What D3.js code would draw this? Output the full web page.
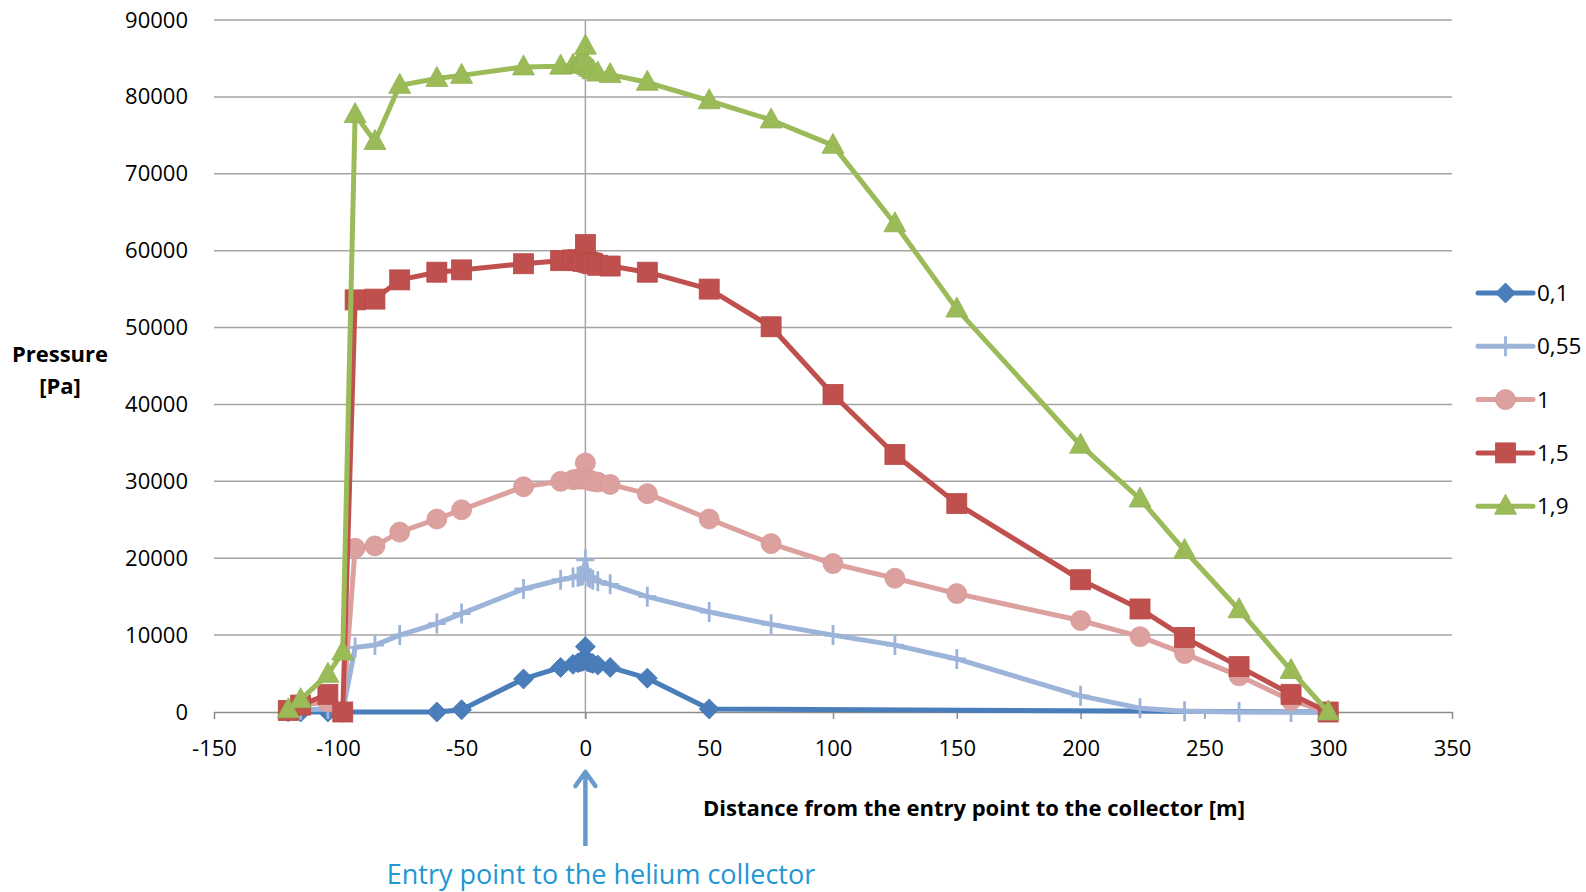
<!DOCTYPE html>
<html>
<head>
<meta charset="utf-8">
<script src="https://cdn.jsdelivr.net/npm/d3@7"></script>
<style>
  html, body { margin: 0; padding: 0; background: #ffffff; }
  svg { display: block; font-family: "Open Sans", "Noto Sans", "Liberation Sans", sans-serif; }
</style>
</head>
<body>
<svg id="chart" width="1586" height="892"></svg>
<script>
// Distance positions [m] shared by the 0,55 / 1 / 1,5 / 1,9 series
const xMain = [-120, -115, -104, -98, -93, -85, -75, -60, -50, -25, -10, -5, -3, -2, -1, 0, 1, 2, 3, 5, 10, 25, 50, 75, 100, 125, 150, 200, 224, 242, 264, 285, 300];
// Distance positions [m] for the 0,1 series
const xLow = [-120, -115, -104, -98, -60, -50, -25, -10, -5, -3, -2, -1, 0, 1, 2, 3, 5, 10, 25, 50, 300];

// Pressure [Pa]
const p01  = [0, 0, 0, 0, 0, 300, 4300, 5800, 6200, 6400, 6500, 6600, 8500, 6500, 6400, 6300, 6100, 5800, 4400, 400, 0];
const p055 = [0, 300, 400, 100, 8400, 8700, 10000, 11500, 12800, 16000, 17200, 17500, 17600, 17700, 17800, 19800, 17600, 17400, 17200, 17000, 16600, 15000, 13000, 11400, 10000, 8700, 6900, 2100, 500, 100, 0, 0, 0];
const p1   = [200, 900, 1300, 0, 21300, 21600, 23400, 25100, 26300, 29300, 30000, 30200, 30300, 30300, 30300, 32400, 30200, 30100, 30000, 29900, 29600, 28400, 25100, 21900, 19300, 17400, 15400, 11900, 9800, 7600, 4700, 1500, 0];
const p15  = [200, 900, 2300, 0, 53600, 53700, 56200, 57200, 57500, 58300, 58700, 58800, 58800, 58700, 58600, 60800, 58500, 58400, 58300, 58100, 58000, 57200, 55000, 50100, 41300, 33500, 27100, 17200, 13400, 9700, 5900, 2300, 0];
const p19  = [300, 1600, 4900, 7800, 77700, 74200, 81500, 82400, 82800, 83900, 84000, 84100, 84200, 84300, 84400, 86600, 83900, 83700, 83400, 83100, 82900, 81900, 79500, 77000, 73700, 63500, 52400, 34700, 27700, 21000, 13300, 5400, 0];

const seriesNames = ["0,1", "0,55", "1", "1,5", "1,9"];
const xTicks = [-150, -100, -50, 0, 50, 100, 150, 200, 250, 300, 350];
const yTicks = [0, 10000, 20000, 30000, 40000, 50000, 60000, 70000, 80000, 90000];

const series = [
  { name: seriesNames[0], xs: xLow,  ys: p01,  color: "#4a7ebb", marker: "diamond" },
  { name: seriesNames[1], xs: xMain, ys: p055, color: "#9db4da", marker: "cross" },
  { name: seriesNames[2], xs: xMain, ys: p1,   color: "#dca19f", marker: "circle" },
  { name: seriesNames[3], xs: xMain, ys: p15,  color: "#c0504d", marker: "square" },
  { name: seriesNames[4], xs: xMain, ys: p19,  color: "#9bbb59", marker: "triangle" }
];

const svg = d3.select("#chart");
const plot = { left: 214, right: 1452, top: 20, bottom: 712 };

const x = d3.scaleLinear().domain([-150, 350]).range([plot.left, plot.right]);
const y = d3.scaleLinear().domain([0, 90000]).range([plot.bottom, plot.top]);

// Plain hyphen for negative numbers
const fmt = d => String(d);

// Horizontal gridlines
svg.append("g")
  .selectAll("line")
  .data(yTicks.filter(d => d > 0))
  .join("line")
  .attr("x1", plot.left).attr("x2", plot.right)
  .attr("y1", d => y(d)).attr("y2", d => y(d))
  .attr("stroke", "#a5a5a5").attr("stroke-width", 1.5);

// Value axis crossing at distance 0
svg.append("line")
  .attr("x1", x(0)).attr("x2", x(0))
  .attr("y1", plot.top).attr("y2", plot.bottom + 7)
  .attr("stroke", "#a5a5a5").attr("stroke-width", 1.5);

// Category axis along pressure 0
const xAxis = d3.axisBottom(x).tickValues(xTicks).tickSize(7).tickSizeOuter(0).tickPadding(21).tickFormat(fmt);
const gx = svg.append("g").attr("transform", `translate(0,${plot.bottom})`).call(xAxis);
gx.select(".domain").attr("stroke", "#8c8c8c").attr("stroke-width", 1.5);
gx.selectAll(".tick line").attr("stroke", "#8c8c8c").attr("stroke-width", 1.5);
gx.selectAll(".tick text")
  .attr("font-size", 22).attr("fill", "#000")
  .attr("font-family", "'Open Sans', sans-serif")
  .attr("dy", "0.71em");

// Pressure labels at the left edge of the plot
const yAxis = d3.axisLeft(y).tickValues(yTicks).tickSize(0).tickPadding(26).tickFormat(fmt);
const gy = svg.append("g").attr("transform", `translate(${plot.left},0)`).call(yAxis);
gy.select(".domain").remove();
gy.selectAll(".tick text")
  .attr("font-size", 22).attr("fill", "#000")
  .attr("font-family", "'Open Sans', sans-serif");

// Marker shapes
function drawMarker(g, type, color, cx, cy) {
  if (type === "diamond") {
    g.append("path")
      .attr("d", `M${cx},${cy - 10}L${cx + 10},${cy}L${cx},${cy + 10}L${cx - 10},${cy}Z`)
      .attr("fill", color).attr("stroke", "#4275b0").attr("stroke-width", 0.8);
  } else if (type === "cross") {
    g.append("path")
      .attr("d", `M${cx - 9},${cy}H${cx + 9}M${cx},${cy - 10}V${cy + 10}`)
      .attr("stroke", color).attr("stroke-width", 2.8).attr("fill", "none");
  } else if (type === "circle") {
    g.append("circle").attr("cx", cx).attr("cy", cy).attr("r", 10)
      .attr("fill", color).attr("stroke", "#d69996").attr("stroke-width", 0.8);
  } else if (type === "square") {
    g.append("rect").attr("x", cx - 10).attr("y", cy - 10).attr("width", 20).attr("height", 20)
      .attr("fill", color).attr("stroke", "#b84a47").attr("stroke-width", 0.8);
  } else if (type === "triangle") {
    g.append("path")
      .attr("d", `M${cx},${cy - 12}L${cx + 11},${cy + 8}L${cx - 11},${cy + 8}Z`)
      .attr("fill", color).attr("stroke", "#91b250").attr("stroke-width", 0.8);
  }
}

const line = d3.line().x(d => x(d[0])).y(d => y(d[1]));

series.forEach(s => {
  const pts = s.xs.map((v, i) => [v, s.ys[i]]);
  const g = svg.append("g").attr("class", "series");
  g.append("path")
    .attr("d", line(pts))
    .attr("fill", "none")
    .attr("stroke", s.color)
    .attr("stroke-width", 5)
    .attr("stroke-linejoin", "round")
    .attr("stroke-linecap", "round");
  const mg = g.append("g");
  pts.forEach(p => drawMarker(mg, s.marker, s.color, x(p[0]), y(p[1])));
});

// Legend
const legend = svg.append("g");
series.forEach((s, i) => {
  const ly = 293 + i * 53.3;
  const g = legend.append("g");
  g.append("line")
    .attr("x1", 1478).attr("x2", 1533).attr("y1", ly).attr("y2", ly)
    .attr("stroke", s.color).attr("stroke-width", 5).attr("stroke-linecap", "round");
  drawMarker(g, s.marker, s.color, 1505.5, ly);
  g.append("text")
    .attr("x", 1537).attr("y", ly + 8)
    .attr("font-size", 22.5).attr("fill", "#000")
    .text(s.name);
});

// Axis titles
svg.append("text")
  .attr("x", 974).attr("y", 816)
  .attr("text-anchor", "middle")
  .attr("font-size", 22).attr("font-weight", "bold").attr("fill", "#000")
  .text("Distance from the entry point to the collector [m]");

svg.append("text")
  .attr("x", 60).attr("y", 362)
  .attr("text-anchor", "middle")
  .attr("font-size", 22).attr("font-weight", "bold").attr("fill", "#000")
  .text("Pressure");
svg.append("text")
  .attr("x", 60).attr("y", 394)
  .attr("text-anchor", "middle")
  .attr("font-size", 22).attr("font-weight", "bold").attr("fill", "#000")
  .text("[Pa]");

// Entry point annotation
const ax = x(0);
svg.append("line")
  .attr("x1", ax).attr("x2", ax).attr("y1", 846).attr("y2", 774)
  .attr("stroke", "#6699cc").attr("stroke-width", 4.5);
svg.append("path")
  .attr("d", `M${ax - 10},${786}L${ax},${772}L${ax + 10},${786}`)
  .attr("fill", "none").attr("stroke", "#6699cc").attr("stroke-width", 4.5)
  .attr("stroke-linecap", "round").attr("stroke-linejoin", "round");
svg.append("text")
  .attr("x", 601).attr("y", 884)
  .attr("text-anchor", "middle")
  .attr("font-size", 27).attr("fill", "#1f97d4")
  .text("Entry point to the helium collector");
</script>
</body>
</html>
